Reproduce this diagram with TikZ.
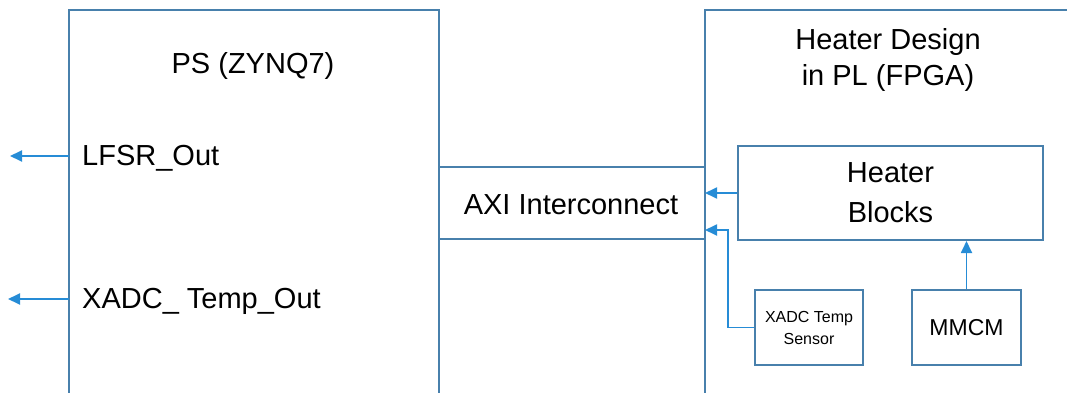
\documentclass[tikz,border=0pt]{standalone}
\usepackage{fontspec}
\setmainfont{Liberation Sans}
\usetikzlibrary{arrows.meta}
\definecolor{boxcol}{RGB}{72,128,172}
\definecolor{arrcol}{RGB}{38,140,214}
\begin{document}
\begin{tikzpicture}[x=1pt,y=-1pt,
  frame/.style={draw=boxcol,line width=2pt},
  blockbox/.style={frame,rectangle,inner sep=0pt,align=center},
  conn/.style={draw=arrcol,line width=1.8pt,-{Triangle[length=12pt,width=11pt]}},
  big/.style={font=\fontsize{29}{40}\selectfont},
  small/.style={font=\fontsize{16}{22}\selectfont}]
\useasboundingbox (0,0) rectangle (1067,393);
% PS box (open at bottom)
\draw[frame] (69,395) -- (69,10) -- (439,10) -- (439,395);
% PL box (open at right and bottom)
\draw[frame] (705,395) -- (705,10) -- (1069,10);
% AXI interconnect band
\draw[frame] (439,167) -- (705,167);
\draw[frame] (439,239) -- (705,239);
\node[big,anchor=center] (ps) at (253,66) {PS (ZYNQ7)};
\node[big,anchor=west,inner sep=0pt] (lfsr) at (82,158) {LFSR\_Out};
\node[big,anchor=west,inner sep=0pt] (xadcout) at (82,301) {XADC\_ Temp\_Out};
\node[big] (axi) at (571,205) {AXI Interconnect};
\node[big,align=center,font=\fontsize{29}{36}\selectfont] (pl) at (888,60) {Heater Design\\in PL (FPGA)};
\node[blockbox,big,minimum width=305pt,minimum height=94pt] (heater) at (890.5,193) {Heater\\Blocks};
\node[blockbox,small,minimum width=108pt,minimum height=75pt] (xadc) at (809,327.5) {XADC Temp\\Sensor};
\node[blockbox,big,font=\fontsize{23}{26}\selectfont,minimum width=109pt,minimum height=75pt] (mmcm) at (966.5,327.5) {MMCM};
% connection points
\coordinate (plA) at (705,193);
\coordinate (plB) at (705,230);
\coordinate (ps1) at (69,156);
\coordinate (ps2) at (69,299);
\coordinate (out1) at (10,156);
\coordinate (out2) at (8,299);
\coordinate (bend) at (728,230);
% connectors
\draw[conn] (ps1) -- (out1);
\draw[conn] (ps2) -- (out2);
\draw[conn] (heater.west |- plA) -- (plA);
\draw[conn] (xadc.west) -| (bend) -- (plB);
\draw[conn] (mmcm.north) -- (heater.south -| mmcm.north);
\end{tikzpicture}
\end{document}
